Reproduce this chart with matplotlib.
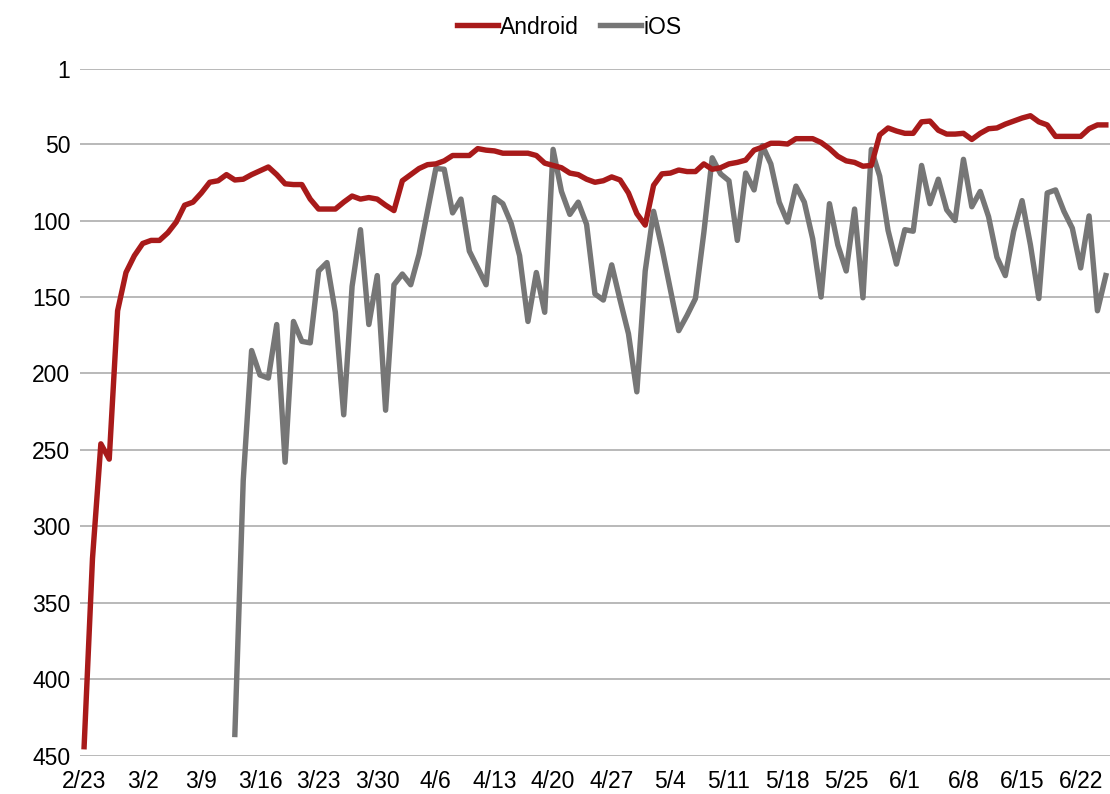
import matplotlib

matplotlib.use('Agg')
import numpy as np
import pandas as pd
import matplotlib.dates as mdates
from matplotlib import pyplot as plt

# Daily ranks, 2/23 .. 6/25 (rank 1 at the top)
start_date = "2019-02-23"
android_rank = [
    444, 321, 246, 256, 159, 134, 123, 115, 113, 113,
    108, 101, 90, 88, 82, 75, 74, 70, 73.5, 73,
    70, 67.5, 65, 70, 76, 76.5, 76.5, 86, 92.5, 92.5,
    92.5, 88, 84, 86, 85, 86, 90, 93.5, 74, 70,
    66, 63.5, 63, 61, 57.5, 57.5, 57.5, 53, 54, 54.5,
    56, 56, 56, 56, 57.5, 62.5, 64, 65.5, 69, 70,
    73, 75, 74, 71.5, 73.5, 82, 95.5, 103, 77, 69.5,
    69, 67, 68, 68, 63, 66.5, 65.5, 63, 62, 60.5,
    54, 52, 49.5, 49.5, 50, 46.5, 46.5, 46.5, 49, 53,
    58, 61, 62, 64.5, 64, 44, 39.5, 41.5, 43, 43,
    35.5, 35, 41, 43.5, 43.5, 43, 47, 43, 40, 39.5,
    37, 35, 33, 31.5, 35.5, 37.5, 45, 45, 45, 45,
    40, 37.5, 37.5,
]
# iOS series only begins on 3/13
ios_start_date = "2019-03-13"
ios_rank = [
    436, 270, 185, 201, 203, 168, 258, 166, 179, 180,
    133, 127.5, 160, 227, 143, 106, 168, 136, 224, 142,
    135, 142, 122, 94, 66, 66.5, 95, 86, 120, 131,
    142, 85, 89, 102, 123, 166, 134, 160, 53.5, 81,
    96, 88, 102.5, 148, 152, 129, 152, 174, 212, 133,
    94, 118, 145, 172, 162, 151, 108, 59, 69.5, 74,
    113, 69, 80, 51, 63, 88, 101, 77.5, 88, 112,
    150, 89, 116, 133, 92.5, 150.5, 53.5, 71, 106.5, 128.5,
    106, 107, 64, 89, 73, 93, 100, 60, 91, 81,
    97.5, 124, 136, 107, 87, 116, 151, 82, 80, 94,
    105, 131, 97, 159, 136,
]
y_ticks = [1, 50, 100, 150, 200, 250, 300, 350, 400, 450]


def main():
    plt.rcParams['font.family'] = ['Liberation Sans', 'DejaVu Sans']

    android_dates = pd.date_range(start_date, periods=len(android_rank), freq='D')
    ios_dates = pd.date_range(ios_start_date, periods=len(ios_rank), freq='D')

    fig = plt.figure(figsize=(11.1, 7.94), dpi=100)
    ax = fig.add_axes([0.072, 0.048, 0.928, 0.865])

    ax.plot(android_dates, android_rank, color='#A81A1A', linewidth=3.9,
            solid_joinstyle='round', label='Android', zorder=3)
    ax.plot(ios_dates, ios_rank, color='#767676', linewidth=3.9,
            solid_joinstyle='round', label='iOS', zorder=2)

    ax.set_ylim(450, 1)
    ax.set_yticks(y_ticks)
    ax.set_xlim(android_dates[0] - pd.Timedelta(hours=12),
                android_dates[-1] + pd.Timedelta(hours=12))
    # weekly labels, starting at the first day
    ax.set_xticks(android_dates[::7])
    ax.xaxis.set_major_formatter(mdates.DateFormatter('%-m/%-d'))

    ax.grid(True, axis='y', color='#a6a6a6', linewidth=1.1)
    ax.set_axisbelow(True)
    for side in ['top', 'right', 'left', 'bottom']:
        ax.spines[side].set_visible(False)
    ax.tick_params(axis='both', length=0, labelsize=16.5, colors='black')
    ax.tick_params(axis='y', pad=7)
    ax.tick_params(axis='x', pad=10)

    fig.legend(loc='center', bbox_to_anchor=(569 / 1110, 1 - 27 / 794), ncol=2,
               frameon=False, fontsize=16.5, handlelength=1.8, handletextpad=0.1,
               columnspacing=0.9)

    plt.savefig("out.png", dpi=100)
    plt.close(fig)


if __name__ == "__main__":
    main()
